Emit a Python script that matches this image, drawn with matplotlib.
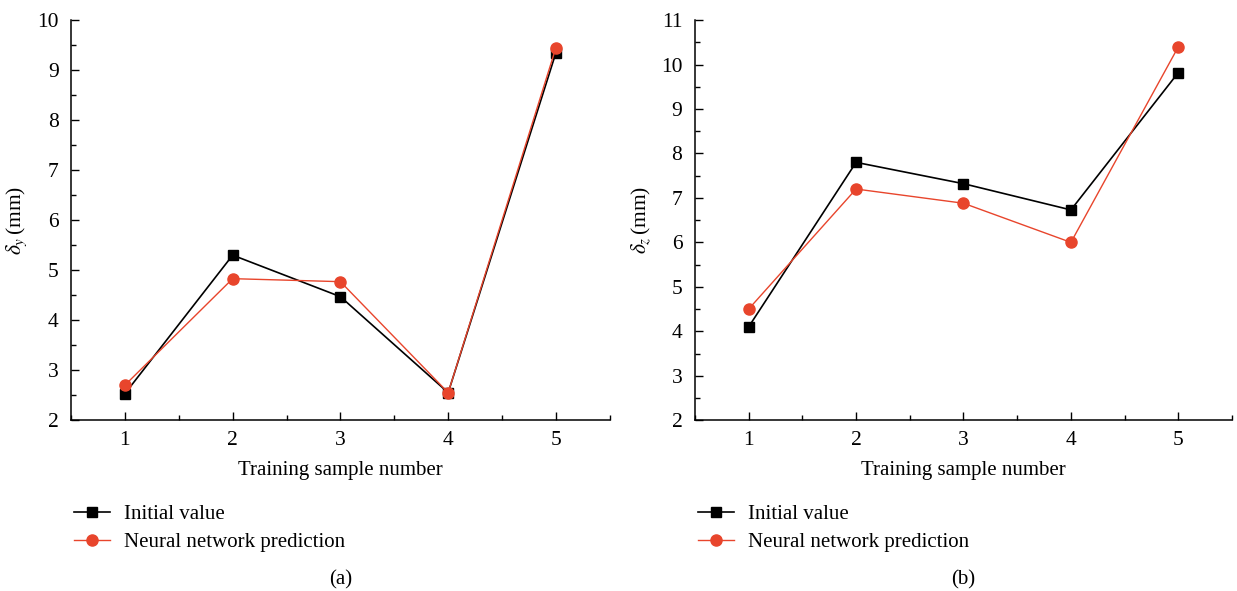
import matplotlib
matplotlib.use("Agg")
import matplotlib.pyplot as plt
from matplotlib.ticker import MultipleLocator

# ---------------------------------------------------------------------------
# data
# ---------------------------------------------------------------------------
samples = [1, 2, 3, 4, 5]

dy_initial = [2.53, 5.30, 4.47, 2.55, 9.35]
dy_nn      = [2.70, 4.83, 4.77, 2.55, 9.45]

dz_initial = [4.10, 7.80, 7.32, 6.73, 9.82]
dz_nn      = [4.50, 7.20, 6.88, 6.00, 10.40]

series_labels = ["Initial value", "Neural network prediction"]
panel_tags = ["(a)", "(b)"]
xlabel = "Training sample number"
ylabels = [r"$\delta_y\,$(mm)", r"$\delta_z\,$(mm)"]
ylims = [(2, 10), (2, 11)]

# ---------------------------------------------------------------------------

plt.rcParams["font.family"] = ["Liberation Serif", "DejaVu Serif"]
plt.rcParams["mathtext.fontset"] = "stix"
plt.rcParams["font.size"] = 15

red = "#E8452C"

fig = plt.figure(figsize=(12.37, 5.91), dpi=100)
axes = [fig.add_axes([0.0574, 0.289, 0.4356, 0.677]),
        fig.add_axes([0.5618, 0.289, 0.4342, 0.677])]

data = [(dy_initial, dy_nn), (dz_initial, dz_nn)]

for i, ax in enumerate(axes):
    init, nn = data[i]
    ax.plot(samples, init, color="black", lw=1.2, marker="s", ms=7,
            label=series_labels[0], clip_on=False)
    ax.plot(samples, nn, color=red, lw=1.0, marker="o", ms=8,
            label=series_labels[1], clip_on=False)

    ax.set_xlim(0.5, 5.5)
    ax.set_ylim(*ylims[i])
    ax.xaxis.set_major_locator(MultipleLocator(1))
    ax.xaxis.set_minor_locator(MultipleLocator(0.5))
    ax.yaxis.set_major_locator(MultipleLocator(1))
    ax.yaxis.set_minor_locator(MultipleLocator(0.5))
    ax.tick_params(which="major", direction="in", length=6, width=1, labelsize=15.5)
    ax.tick_params(which="minor", direction="in", length=3.5, width=1)
    ax.tick_params(axis="x", pad=8)
    ax.tick_params(axis="y", pad=9)
    for s in ["top", "right"]:
        ax.spines[s].set_visible(False)
    for s in ["left", "bottom"]:
        ax.spines[s].set_linewidth(1.1)

    ax.set_xlabel(xlabel, fontsize=15, labelpad=8)
    ax.set_ylabel(ylabels[i], fontsize=15.5, labelpad=6)

    ax.legend(loc="upper left", bbox_to_anchor=(-0.01, -0.19), frameon=False,
              fontsize=15, handlelength=1.75, handletextpad=0.65, labelspacing=0.4,
              borderaxespad=0)

    ax.text(0.5, -0.40, panel_tags[i], transform=ax.transAxes,
            ha="center", va="center", fontsize=15)

fig.savefig("out.png", dpi=100)
